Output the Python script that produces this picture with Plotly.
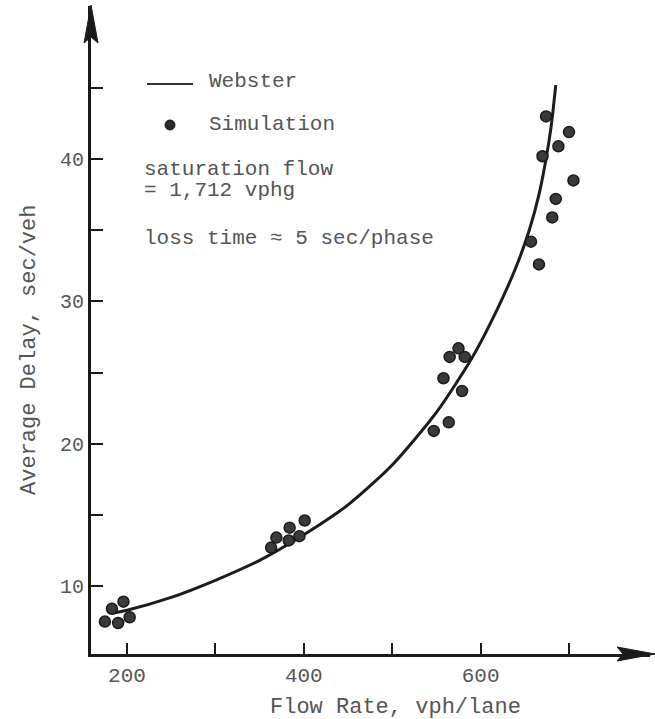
import plotly.graph_objects as go

# ---------------- data ----------------
sim_flow = [175, 183, 190, 196, 203,
            363, 369, 383, 384, 395, 401,
            547, 558, 564, 565, 575, 579, 582,
            657, 666, 670, 674, 681, 685, 688, 700, 705]
sim_delay = [7.5, 8.4, 7.4, 8.9, 7.8,
             12.7, 13.4, 13.2, 14.1, 13.5, 14.6,
             20.9, 24.6, 21.5, 26.1, 26.7, 23.7, 26.1,
             34.2, 32.6, 40.2, 43.0, 35.9, 37.2, 40.9, 41.9, 38.5]

webster_flow = [184, 200, 250, 300, 350, 400, 450, 500, 550, 590, 620, 640, 655, 666, 674, 680, 685]
webster_delay = [8.1, 8.3, 9.2, 10.4, 11.8, 13.6, 15.7, 18.5, 22.2, 26.0, 29.6, 32.4, 35.0, 37.5, 40.0, 42.4, 45.2]

x_tickvals = [200, 300, 400, 500, 600, 700]
x_ticktext = ["200", "", "400", "", "600", ""]
y_tickvals = [10, 15, 20, 25, 30, 35, 40, 45]
y_ticktext = ["10", "", "20", "", "30", "", "40", ""]

x_title = "Flow Rate, vph/lane"
y_title = "Average Delay, sec/veh"
legend_line_label = "Webster"
legend_dot_label = "Simulation"
note_lines = ["saturation flow", "= 1,712 vphg", "loss time \u2248 5 sec/phase"]

# ---------------- layout geometry ----------------
W, H = 655, 719
PL, PR, PT, PB = 91, 650, 6, 654
X_RANGE = [159.3, 791.6]
Y_RANGE = [5.22, 50.76]

FONT = "Liberation Mono, Courier New, monospace"
TXT = "#555555"


def fx(px):
    return (px - PL) / (PR - PL)


def fy(py):
    return (PB - py) / (PB - PT)


fig = go.Figure()

fig.add_trace(go.Scatter(
    x=webster_flow, y=webster_delay, mode="lines",
    line=dict(color="#1c1c1c", width=3, shape="spline", smoothing=0.7),
    showlegend=False, hoverinfo="skip"))

fig.add_trace(go.Scatter(
    x=sim_flow, y=sim_delay, mode="markers",
    marker=dict(size=11, color="#3a3a3a", line=dict(color="#1a1a1a", width=1.5)),
    showlegend=False))

shapes = []
# arrowheads
shapes.append(dict(type="path", xref="paper", yref="paper",
                   path=f"M {fx(91)} {fy(5)} L {fx(84)} {fy(43)} L {fx(91)} {fy(37)} L {fx(98)} {fy(43)} Z",
                   fillcolor="#1a1a1a", line=dict(color="#1a1a1a", width=1)))
shapes.append(dict(type="path", xref="paper", yref="paper",
                   path=f"M {fx(655)} {fy(654)} L {fx(617)} {fy(647)} L {fx(623)} {fy(654)} L {fx(617)} {fy(661)} Z",
                   fillcolor="#1a1a1a", line=dict(color="#1a1a1a", width=1)))
# legend symbols
shapes.append(dict(type="line", xref="paper", yref="paper",
                   x0=fx(147), x1=fx(193), y0=fy(84), y1=fy(84),
                   line=dict(color="#333333", width=2)))
shapes.append(dict(type="circle", xref="paper", yref="paper",
                   x0=fx(165), x1=fx(175), y0=fy(130), y1=fy(120),
                   fillcolor="#2a2a2a", line=dict(color="#1a1a1a", width=1)))

annotations = []


def txt(text, px, py, size=21, xanchor="left", angle=0):
    annotations.append(dict(text=text, xref="paper", yref="paper",
                            x=fx(px), y=fy(py), xanchor=xanchor, yanchor="middle",
                            showarrow=False, textangle=angle,
                            font=dict(family=FONT, size=size, color=TXT)))


txt(legend_line_label, 207, 82)
txt(legend_dot_label, 207, 124)
txt(note_lines[0], 142, 169)
txt(note_lines[1], 142, 190)
txt(note_lines[2], 142, 238)
txt(x_title, 395, 707, size=22, xanchor="center")
txt(y_title, 29, 350, size=22, xanchor="center", angle=-90)

fig.update_layout(
    width=W, height=H,
    margin=dict(l=PL, r=W - PR, t=PT, b=H - PB, pad=0),
    paper_bgcolor="white", plot_bgcolor="white",
    showlegend=False,
    shapes=shapes, annotations=annotations,
    xaxis=dict(range=X_RANGE, showgrid=False, zeroline=False,
               showline=True, linecolor="#1a1a1a", linewidth=3,
               ticks="inside", ticklen=11, tickwidth=2, tickcolor="#1a1a1a",
               tickvals=x_tickvals, ticktext=x_ticktext,
               tickfont=dict(family=FONT, size=21, color=TXT)),
    yaxis=dict(range=Y_RANGE, showgrid=False, zeroline=False,
               showline=True, linecolor="#1a1a1a", linewidth=3,
               ticks="inside", ticklen=12, tickwidth=2, tickcolor="#1a1a1a",
               tickvals=y_tickvals, ticktext=y_ticktext,
               tickfont=dict(family=FONT, size=20, color=TXT)),
)

fig.write_html("out.html")
